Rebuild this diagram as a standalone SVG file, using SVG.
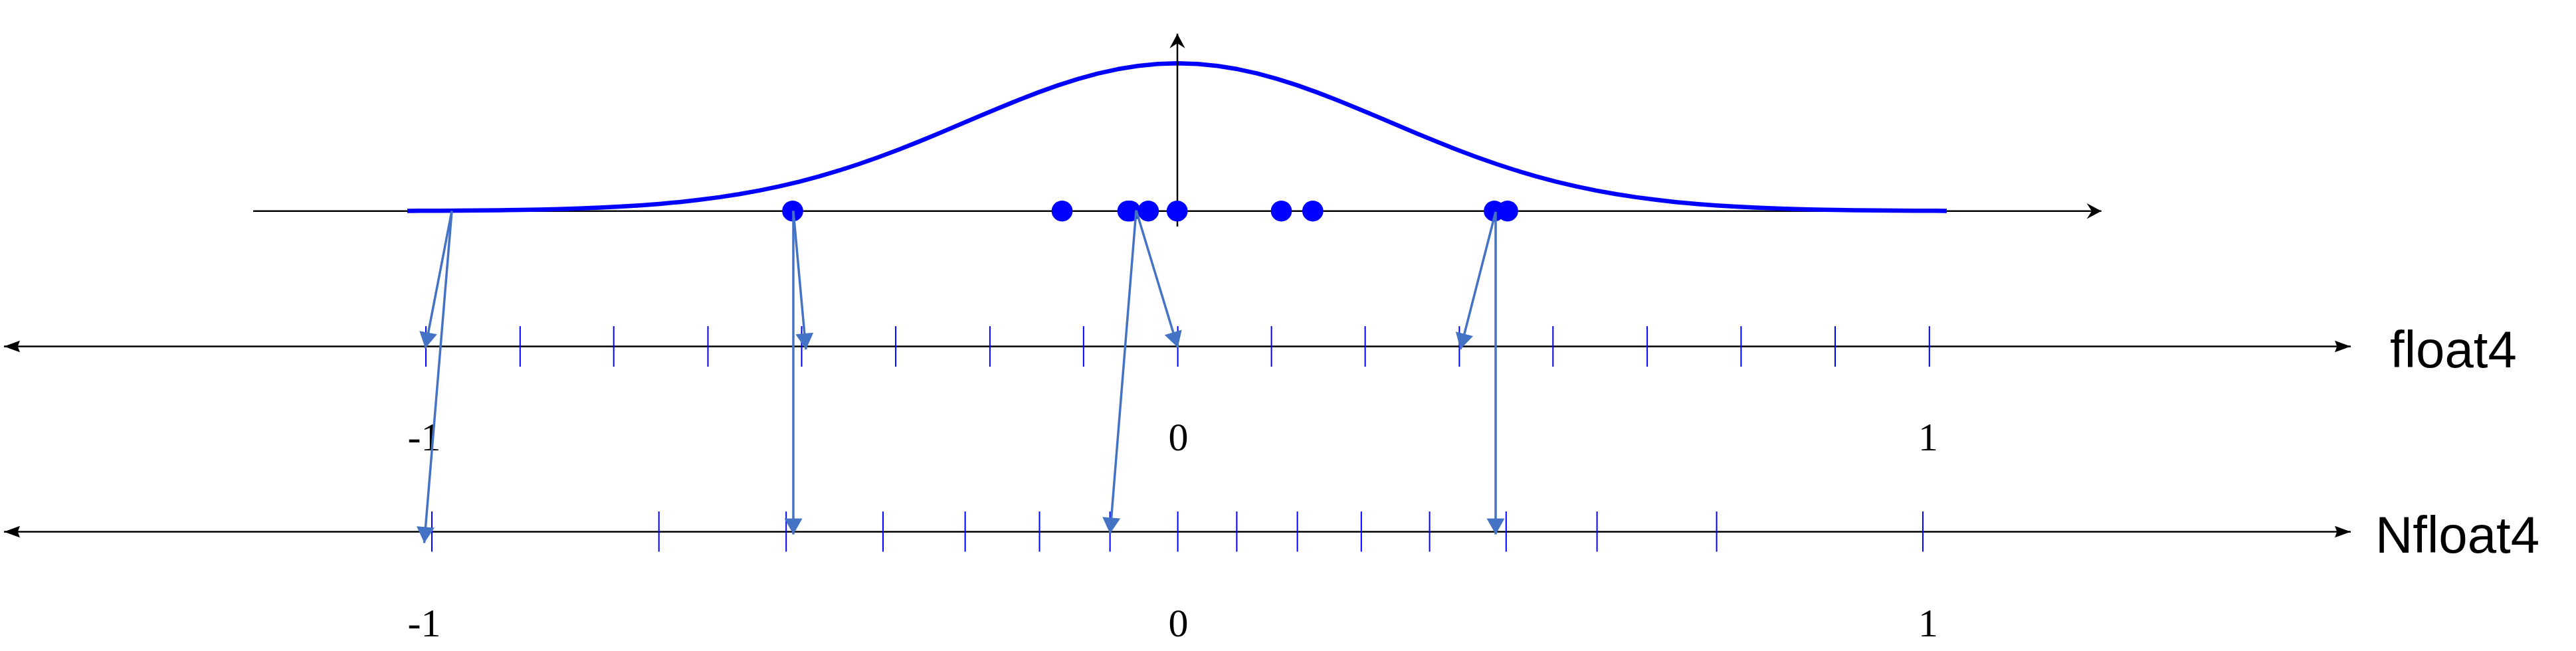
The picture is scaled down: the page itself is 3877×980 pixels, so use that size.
<svg xmlns="http://www.w3.org/2000/svg" width="3877" height="980" viewBox="0 0 3877 980">
<style>
.axis{stroke:#000;stroke-width:2.5;fill:none}
.tick{stroke:#0000FF;stroke-width:2}
.curve{stroke:#0000FF;stroke-width:6.5;fill:none;stroke-linejoin:round}
.dot{fill:#0000FF}
.conn{stroke:#4472C4;stroke-width:3.5;fill:none;marker-end:url(#ah)}
.num{font-family:"Liberation Serif","Times New Roman",serif;font-size:60px;text-anchor:middle;fill:#000}
.lbl{font-family:"Liberation Sans",Arial,sans-serif;font-size:78px;fill:#000}
</style>
<defs>
<marker id="stealth" markerUnits="userSpaceOnUse" markerWidth="22" markerHeight="24" refX="22" refY="11.7" orient="auto" overflow="visible">
<path d="M0,0 L22,11.7 L0,23.4 L7.5,11.7 z" fill="#000"/>
</marker>
<marker id="tri" markerUnits="userSpaceOnUse" markerWidth="24" markerHeight="18" refX="24" refY="8.7" orient="auto-start-reverse" overflow="visible">
<path d="M0,0 L24,8.7 L0,17.4 L3.3,8.7 z" fill="#000"/>
</marker>
<marker id="ah" markerUnits="userSpaceOnUse" markerWidth="24" markerHeight="27" refX="24" refY="13.5" orient="auto" overflow="visible">
<path d="M0,0 L24,13.5 L0,27 z" fill="#4472C4"/>
</marker>
</defs>

<g id="distribution">
<line class="axis" x1="381" y1="317.7" x2="3162.7" y2="317.7" marker-end="url(#stealth)"/>
<polyline class="curve" points="613,317.4 632.5,317.35 662.5,317.22 692.5,317.03 722.5,316.78 752.5,316.44 782.5,316 812.5,315.43 842.5,314.69 872.5,313.75 902.5,312.55 932.5,311.05 962.5,309.2 992.5,306.92 1022.5,304.16 1052.5,300.84 1082.5,296.89 1112.5,292.24 1142.5,286.84 1172.5,280.61 1202.5,273.54 1232.5,265.58 1262.5,256.74 1292.5,247.03 1322.5,236.5 1352.5,225.24 1382.5,213.36 1412.5,201 1442.5,188.34 1472.5,175.58 1502.5,162.96 1532.5,150.72 1562.5,139.12 1592.5,128.41 1622.5,118.86 1652.5,110.68 1682.5,104.08 1712.5,99.25 1742.5,96.29 1772.5,95.3 1802.5,96.29 1832.5,99.25 1862.5,104.08 1892.5,110.68 1922.5,118.86 1952.5,128.41 1982.5,139.12 2012.5,150.72 2042.5,162.96 2072.5,175.58 2102.5,188.34 2132.5,201 2162.5,213.36 2192.5,225.24 2222.5,236.5 2252.5,247.03 2282.5,256.74 2312.5,265.58 2342.5,273.54 2372.5,280.61 2402.5,286.84 2432.5,292.24 2462.5,296.89 2492.5,300.84 2522.5,304.16 2552.5,306.92 2582.5,309.2 2612.5,311.05 2642.5,312.55 2672.5,313.75 2702.5,314.69 2732.5,315.43 2762.5,316 2792.5,316.44 2822.5,316.78 2852.5,317.03 2882.5,317.22 2912.5,317.35 2930,317.4"/>
<line class="axis" x1="1772" y1="341" x2="1772" y2="50.7" marker-end="url(#stealth)"/>
</g>

<g id="samples">
<circle class="dot" cx="1193" cy="317.7" r="15.8"/>
<circle class="dot" cx="1598.5" cy="317.7" r="15.8"/>
<circle class="dot" cx="1697.5" cy="317.7" r="15.8"/>
<circle class="dot" cx="1701" cy="317.7" r="15.8"/>
<circle class="dot" cx="1728.3" cy="317.7" r="15.8"/>
<circle class="dot" cx="1771.7" cy="317.7" r="15.8"/>
<circle class="dot" cx="1928.5" cy="317.7" r="15.8"/>
<circle class="dot" cx="1975.8" cy="317.7" r="15.8"/>
<circle class="dot" cx="2249" cy="317.7" r="15.8"/>
<circle class="dot" cx="2269" cy="317.7" r="15.8"/>
</g>

<g id="float4-axis">
<line class="axis" x1="6" y1="521.5" x2="3538" y2="521.5" marker-start="url(#tri)" marker-end="url(#tri)"/>
<g class="tick">
<line x1="641" y1="491" x2="641" y2="552"/>
<line x1="782.8" y1="491" x2="782.8" y2="552"/>
<line x1="923.7" y1="491" x2="923.7" y2="552"/>
<line x1="1065.5" y1="491" x2="1065.5" y2="552"/>
<line x1="1206.5" y1="491" x2="1206.5" y2="552"/>
<line x1="1348.1" y1="491" x2="1348.1" y2="552"/>
<line x1="1489.9" y1="491" x2="1489.9" y2="552"/>
<line x1="1630.8" y1="491" x2="1630.8" y2="552"/>
<line x1="1772.6" y1="491" x2="1772.6" y2="552"/>
<line x1="1913.6" y1="491" x2="1913.6" y2="552"/>
<line x1="2054.6" y1="491" x2="2054.6" y2="552"/>
<line x1="2196.4" y1="491" x2="2196.4" y2="552"/>
<line x1="2337.3" y1="491" x2="2337.3" y2="552"/>
<line x1="2479.1" y1="491" x2="2479.1" y2="552"/>
<line x1="2620.4" y1="491" x2="2620.4" y2="552"/>
<line x1="2762" y1="491" x2="2762" y2="552"/>
<line x1="2903.8" y1="491" x2="2903.8" y2="552"/>
</g>
<text class="num" x="638.5" y="678">-1</text>
<text class="num" x="1773.5" y="678">0</text>
<text class="num" x="2902" y="678">1</text>
<text class="lbl" x="3597" y="553">float4</text>
</g>

<g id="nfloat4-axis">
<line class="axis" x1="6" y1="800.5" x2="3538" y2="800.5" marker-start="url(#tri)" marker-end="url(#tri)"/>
<g class="tick">
<line x1="650" y1="770" x2="650" y2="830.5"/>
<line x1="991.7" y1="770" x2="991.7" y2="830.5"/>
<line x1="1183.2" y1="770" x2="1183.2" y2="830.5"/>
<line x1="1329" y1="770" x2="1329" y2="830.5"/>
<line x1="1452.6" y1="770" x2="1452.6" y2="830.5"/>
<line x1="1564.5" y1="770" x2="1564.5" y2="830.5"/>
<line x1="1670.6" y1="770" x2="1670.6" y2="830.5"/>
<line x1="1772.6" y1="770" x2="1772.6" y2="830.5"/>
<line x1="1861.4" y1="770" x2="1861.4" y2="830.5"/>
<line x1="1952.6" y1="770" x2="1952.6" y2="830.5"/>
<line x1="2048.8" y1="770" x2="2048.8" y2="830.5"/>
<line x1="2151.6" y1="770" x2="2151.6" y2="830.5"/>
<line x1="2266.8" y1="770" x2="2266.8" y2="830.5"/>
<line x1="2403.6" y1="770" x2="2403.6" y2="830.5"/>
<line x1="2583.6" y1="770" x2="2583.6" y2="830.5"/>
<line x1="2894" y1="770" x2="2894" y2="830.5"/>
</g>
<text class="num" x="638.5" y="958">-1</text>
<text class="num" x="1773.5" y="958">0</text>
<text class="num" x="2902" y="958">1</text>
<text class="lbl" x="3575" y="832">Nfloat4</text>
</g>

<g id="connectors">
<line class="conn" x1="680" y1="317.6" x2="640" y2="524.3"/>
<line class="conn" x1="680" y1="317.6" x2="638.5" y2="817.3"/>
<line class="conn" x1="1194" y1="317.6" x2="1213" y2="526"/>
<line class="conn" x1="1194" y1="317.6" x2="1194" y2="804.4"/>
<line class="conn" x1="1710" y1="316.7" x2="1772.7" y2="523.3"/>
<line class="conn" x1="1710" y1="316.7" x2="1670.7" y2="803.3"/>
<line class="conn" x1="2251" y1="319" x2="2198" y2="525.8"/>
<line class="conn" x1="2251" y1="319" x2="2251" y2="804.4"/>
</g>
</svg>
